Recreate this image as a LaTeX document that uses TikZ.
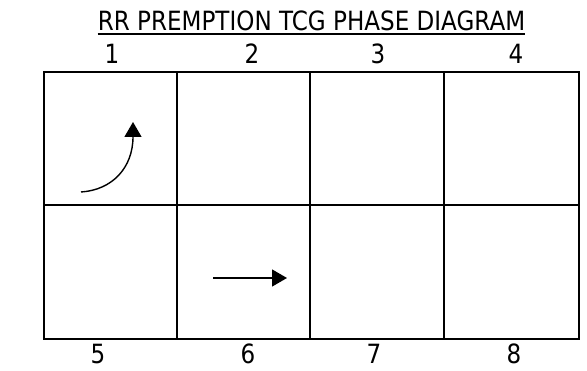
\documentclass[tikz,border=0pt]{standalone}
\usepackage{fontspec}
\setmainfont{DejaVu Sans}[FakeStretch=0.87]
\usetikzlibrary{arrows.meta}
\begin{document}
\begin{tikzpicture}[x=1pt,y=-1pt,
  gridline/.style={line width=2.2pt},
  lbl/.style={inner sep=0pt,anchor=base,font=\fontsize{26.5pt}{30pt}\selectfont},
  flow/.style={line width=1.4pt,-{Triangle[length=15pt,width=17pt]}}]
\useasboundingbox (0,0) rectangle (587,371);
% title
\node[lbl] (title) at (311.5,31) {RR PREMPTION TCG PHASE DIAGRAM};
\draw[line width=1.5pt] ([yshift=-3pt]title.base west) -- ([yshift=-3pt]title.base east);
% grid
\draw[gridline] (44,72) rectangle (579,339);
\draw[gridline] (44,205) -- (579,205);
\draw[gridline] (177,72) -- (177,339);
\draw[gridline] (310,72) -- (310,339);
\draw[gridline] (444,72) -- (444,339);
% phase numbers
\node[lbl] (n1) at (112,64) {1};
\node[lbl] (n2) at (252,64) {2};
\node[lbl] (n3) at (378,64) {3};
\node[lbl] (n4) at (516,64) {4};
\node[lbl] (n5) at (98,364) {5};
\node[lbl] (n6) at (248,364) {6};
\node[lbl] (n7) at (374,364) {7};
\node[lbl] (n8) at (514,364) {8};
% arrows
\coordinate (a1s) at (81,192);
\coordinate (a1e) at (133,122);
\draw[flow] (a1s) .. controls (112,190) and (133,168) .. (a1e);
\coordinate (a6s) at (213,278);
\coordinate (a6e) at (287,278);
\draw[flow] (a6s) -- (a6e);
\end{tikzpicture}
\end{document}
